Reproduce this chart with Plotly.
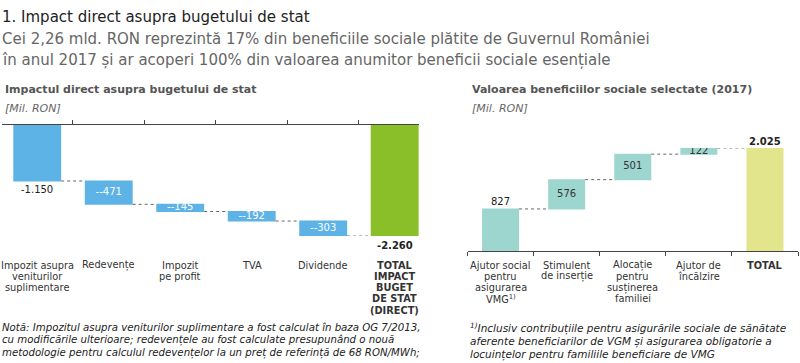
import plotly.graph_objects as go

# ---------------- data ----------------
left_categories = ["Impozit asupra<br>veniturilor<br>suplimentare", "Redevențe", "Impozit<br>pe profit",
                   "TVA", "Dividende", "<b>TOTAL</b><br><b>IMPACT</b><br><b>BUGET</b><br><b>DE STAT</b><br><b>(DIRECT)</b>"]
left_values = [-1150, -471, -145, -192, -303, -2260]
left_measure = ["relative", "relative", "relative", "relative", "relative", "total"]
left_labels = ["-1.150", "--471", "--145", "--192", "--303", "<b>-2.260</b>"]

right_categories = ["Ajutor social<br>pentru<br>asigurarea<br>VMG<sup>1)</sup>", "Stimulent<br>de inserție",
                    "Alocație<br>pentru<br>susținerea<br>familiei", "Ajutor de<br>încălzire", "<b>TOTAL</b>"]
right_values = [827, 576, 501, 122, 2025]
right_measure = ["relative", "relative", "relative", "relative", "total"]
right_labels = ["827", "576", "501", "122", "<b>2.025</b>"]

FONT = "DejaVu Sans"
W, H = 800, 363

def px(x):
    return x / W

def py(y):
    return 1 - y / H

fig = go.Figure()

fig.add_trace(go.Waterfall(
    x=list(range(len(left_values))), y=left_values, measure=left_measure,
    width=0.67, xaxis="x", yaxis="y", textposition="none",
    decreasing=dict(marker=dict(color="#5DB2E6")),
    increasing=dict(marker=dict(color="#5DB2E6")),
    totals=dict(marker=dict(color="#8BBF2A")),
    connector=dict(line=dict(color="#666666", width=1, dash="dot")),
    hoverinfo="skip", showlegend=False,
))

fig.add_trace(go.Waterfall(
    x=list(range(len(right_values))), y=right_values, measure=right_measure,
    width=0.56, xaxis="x2", yaxis="y2", textposition="none",
    increasing=dict(marker=dict(color="#9DD6CF")),
    decreasing=dict(marker=dict(color="#9DD6CF")),
    totals=dict(marker=dict(color="#E3E58C")),
    connector=dict(line=dict(color="#666666", width=1, dash="dot")),
    hoverinfo="skip", showlegend=False,
))

def wf_positions(values, measure):
    mids, ends, cum = [], [], 0
    for v, m in zip(values, measure):
        if m == "total":
            mids.append(v / 2); ends.append(v); cum = v
        else:
            mids.append(cum + v / 2); cum += v; ends.append(cum)
    return mids, ends

lm, le = wf_positions(left_values, left_measure)
rm, re_ = wf_positions(right_values, right_measure)

inner_l = [1, 2, 3, 4]
fig.add_trace(go.Scatter(x=inner_l, y=[lm[i] for i in inner_l], text=[left_labels[i] for i in inner_l],
                         mode="text", textfont=dict(family=FONT, size=10, color="white"),
                         xaxis="x", yaxis="y", hoverinfo="skip", showlegend=False))
inner_r = [1, 2, 3]
fig.add_trace(go.Scatter(x=inner_r, y=[rm[i] for i in inner_r], text=[right_labels[i] for i in inner_r],
                         mode="text", textfont=dict(family=FONT, size=10, color="#333333"),
                         xaxis="x2", yaxis="y2", hoverinfo="skip", showlegend=False))

axis_common = dict(showgrid=False, zeroline=False, showticklabels=False,
                   showline=True, linecolor="#444444", linewidth=1,
                   ticklen=4, tickcolor="#444444", tickwidth=1, fixedrange=True,
                   tickmode="array", tickvals=[-0.5, 0.5, 1.5, 2.5, 3.5, 4.5])

fig.update_layout(
    width=W, height=H, margin=dict(l=0, r=0, t=0, b=0),
    paper_bgcolor="white", plot_bgcolor="white",
    xaxis=dict(domain=[px(1.5), px(419)], range=[-0.5, 5.34], anchor="free", position=py(124),
               side="bottom", ticks="inside", **axis_common),
    yaxis=dict(domain=[py(236), py(124)], range=[-2260, 0], visible=False, fixedrange=True),
    xaxis2=dict(domain=[px(467.5), px(798)], range=[-0.5, 4.5], anchor="y2", side="bottom",
                ticks="outside", **axis_common),
    yaxis2=dict(domain=[py(251), py(148)], range=[0, 2025], visible=False, fixedrange=True),
)

ann = []
# value labels outside bars
for i in [0, 5]:
    ann.append(dict(text=left_labels[i], x=i, y=le[i], xref="x", yref="y", xanchor="center", yanchor="middle",
                    yshift=-9, showarrow=False, font=dict(family=FONT, size=10, color="#222222")))
for i in [0, 4]:
    ann.append(dict(text=right_labels[i], x=i, y=re_[i], xref="x2", yref="y2", xanchor="center", yanchor="middle",
                    yshift=7, showarrow=False, font=dict(family=FONT, size=10, color="#222222")))
# main titles
ann.append(dict(text="1. Impact direct asupra bugetului de stat", x=0, y=py(17), xref="paper", yref="paper",
                xanchor="left", yanchor="middle", showarrow=False,
                font=dict(family=FONT, size=15, color="#222222")))
ann.append(dict(text="Cei 2,26 mld. RON reprezintă 17% din beneficiile sociale plătite de Guvernul României",
                x=0, y=py(39), xref="paper", yref="paper", xanchor="left", yanchor="middle", showarrow=False,
                font=dict(family=FONT, size=15, color="#666666")))
ann.append(dict(text="în anul 2017 și ar acoperi 100% din valoarea anumitor beneficii sociale esențiale",
                x=0, y=py(60), xref="paper", yref="paper", xanchor="left", yanchor="middle", showarrow=False,
                font=dict(family=FONT, size=15, color="#666666")))
# chart titles
for xx, t in [(3, "Impactul direct asupra bugetului de stat"), (470, "Valoarea beneficiilor sociale selectate (2017)")]:
    ann.append(dict(text=f"<b>{t}</b>", x=px(xx), y=py(89), xref="paper", yref="paper",
                    xanchor="left", yanchor="middle", showarrow=False,
                    font=dict(family=FONT, size=11, color="#555555")))
    ann.append(dict(text="<i>[Mil. RON]</i>", x=px(xx), y=py(108), xref="paper", yref="paper",
                    xanchor="left", yanchor="middle", showarrow=False,
                    font=dict(family=FONT, size=11, color="#666666")))
# category labels, one annotation per line for tight line spacing
for xr, cats in [("x", left_categories), ("x2", right_categories)]:
    for i, c in enumerate(cats):
        for k, line in enumerate(c.split("<br>")):
            ann.append(dict(text=line, x=i, y=py(265 + 11.3 * k), xref=xr, yref="paper",
                            xanchor="center", yanchor="middle", showarrow=False,
                            font=dict(family=FONT, size=9.8, color="#333333")))
# notes
left_note = ["Notă: Impozitul asupra veniturilor suplimentare a fost calculat în baza OG 7/2013,",
             "cu modificările ulterioare; redevențele au fost calculate presupunând o nouă",
             "metodologie pentru calculul redevențelor la un preț de referință de 68 RON/MWh;"]
right_note = ["<sup>1)</sup>Inclusiv contribuțiile pentru asigurările sociale de sănătate",
              "aferente beneficiarilor de VGM și asigurarea obligatorie a",
              "locuințelor pentru familiile beneficiare de VMG"]
for k, line in enumerate(left_note):
    ann.append(dict(text=f"<i>{line}</i>", x=0, y=py(327 + 13 * k), xref="paper", yref="paper",
                    xanchor="left", yanchor="middle", showarrow=False,
                    font=dict(family=FONT, size=10.2, color="#222222")))
for k, line in enumerate(right_note):
    ann.append(dict(text=f"<i>{line}</i>", x=px(468), y=py(328 + 13 * k), xref="paper", yref="paper",
                    xanchor="left", yanchor="middle", showarrow=False,
                    font=dict(family=FONT, size=10.5, color="#222222")))

fig.update_layout(annotations=ann)
fig.write_html("out.html", config={"displayModeBar": False},
               post_script="document.body.style.margin='0';")
